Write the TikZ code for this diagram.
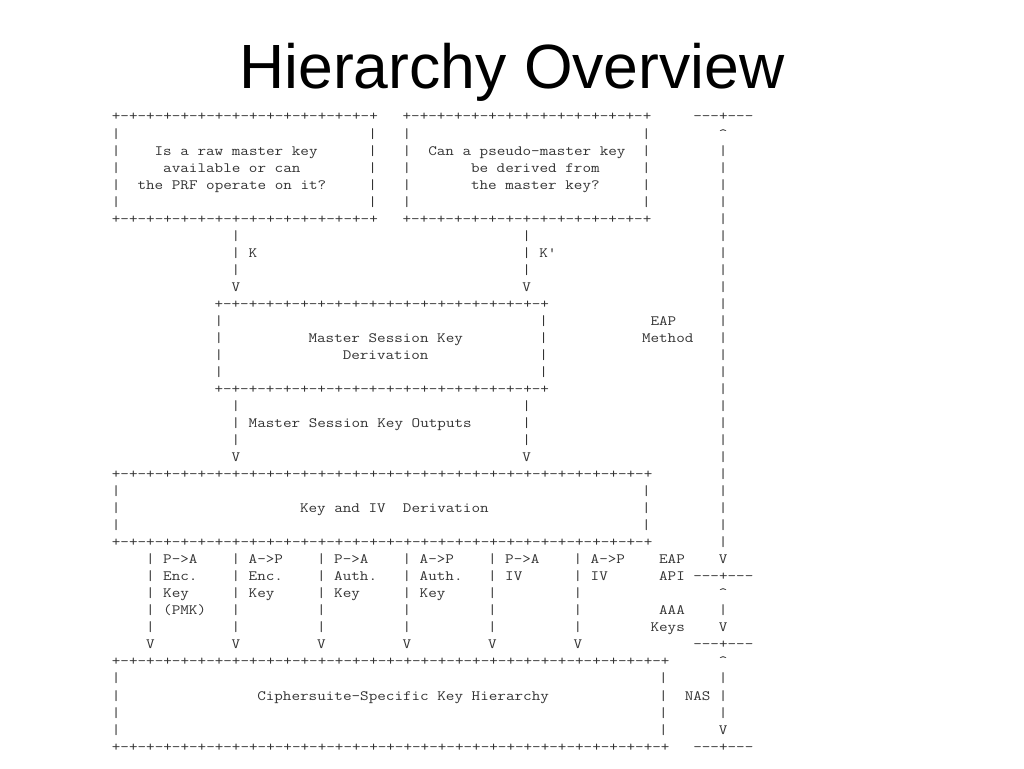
\documentclass[tikz,border=0pt]{standalone}
\usepackage{fontspec}
\setmainfont{Liberation Sans}
\setmonofont{Latin Modern Mono}[FakeStretch=1.1689]
\usepackage{tikz}

% a row of +-+-...-+ with n segments
\newcommand{\border}[1]{+\foreach \seg in {1,...,#1}{-+}}

\tikzset{
    ascii/.style={font=\ttfamily\fontsize{14.25}{17}\selectfont, text=black!80,
        inner sep=0pt, anchor=base west},
    heading/.style={font=\fontsize{62.5}{70}\selectfont, inner sep=0pt, anchor=base}
}

\begin{document}
\begin{tikzpicture}[x=1pt, y=1pt]
        \useasboundingbox (0, 0) rectangle (1024, 768);
        \node[heading] (title) at (512, 679) {Hierarchy Overview};

    \begin{scope}[shift={(111.7, 647)}, x=8.55pt, y=-17.03pt]
        % the two question boxes
        \node[ascii] (rawtop) at (0, 0) {\border{15}};
        \node[ascii] (pseudotop) at (34, 0) {\border{14}};
        \node[ascii] (eaptop) at (68, 0) {---+---};
        \node[ascii] (eapup) at (71, 1) {\textasciicircum};
        \foreach \r in {1,...,5} {
            \node[ascii] (rawl\r) at (0, \r) {|};
            \node[ascii] (rawr\r) at (30, \r) {|};
            \node[ascii] (pseudol\r) at (34, \r) {|};
            \node[ascii] (pseudor\r) at (62, \r) {|};
        }
        \node[ascii] (rawa) at (5, 2) {Is a raw master key};
        \node[ascii] (rawb) at (6, 3) {available or can};
        \node[ascii] (rawc) at (3, 4) {the PRF operate on it?};
        \node[ascii] (pseudoa) at (37, 2) {Can a pseudo-master key};
        \node[ascii] (pseudob) at (42, 3) {be derived from};
        \node[ascii] (pseudoc) at (42, 4) {the master key?};
        \node[ascii] (rawbot) at (0, 6) {\border{15}};
        \node[ascii] (pseudobot) at (34, 6) {\border{14}};

        % EAP method span on the right
        \foreach \r in {2,...,25}
            \node[ascii] (eapbar\r) at (71, \r) {|};
        \node[ascii] (eapa) at (63, 12) {EAP};
        \node[ascii] (eapb) at (62, 13) {Method};

        % K and K' down to the MSK box
        \foreach \r in {7,8,9} {
            \node[ascii] (kbar\r) at (14, \r) {|};
            \node[ascii] (kpbar\r) at (48, \r) {|};
        }
        \node[ascii] (k) at (16, 8) {K};
        \node[ascii] (kp) at (50, 8) {K'};
        \node[ascii] (kv) at (14, 10) {V};
        \node[ascii] (kpv) at (48, 10) {V};

        % master session key derivation
        \node[ascii] (msktop) at (12, 11) {\border{19}};
        \foreach \r in {12,...,15} {
            \node[ascii] (mskl\r) at (12, \r) {|};
            \node[ascii] (mskr\r) at (50, \r) {|};
        }
        \node[ascii] (mska) at (23, 13) {Master Session Key};
        \node[ascii] (mskb) at (27, 14) {Derivation};
        \node[ascii] (mskbot) at (12, 16) {\border{19}};

        % outputs
        \foreach \r in {17,18,19} {
            \node[ascii] (outl\r) at (14, \r) {|};
            \node[ascii] (outr\r) at (48, \r) {|};
        }
        \node[ascii] (out) at (16, 18) {Master Session Key Outputs};
        \node[ascii] (outlv) at (14, 20) {V};
        \node[ascii] (outrv) at (48, 20) {V};

        % key and IV derivation
        \node[ascii] (kivtop) at (0, 21) {\border{31}};
        \foreach \r in {22,23,24} {
            \node[ascii] (kivl\r) at (0, \r) {|};
            \node[ascii] (kivr\r) at (62, \r) {|};
        }
        \node[ascii] (kiv) at (22, 23) {Key and IV~~Derivation};
        \node[ascii] (kivbot) at (0, 25) {\border{31}};

        % derived keys
        \foreach \c/\la/\lb/\lc/\ld [count=\kc] in {4/P->A/Enc./Key/(PMK),
                14/A->P/Enc./Key/{}, 24/P->A/Auth./Key/{}, 34/A->P/Auth./Key/{},
                44/P->A/IV/{}/{}, 54/A->P/IV/{}/{}} {
            \foreach \r in {26,...,30}
                \node[ascii] (dk\kc-\r) at (\c, \r) {|};
            \node[ascii] (dk\kc-v) at (\c, 31) {V};
            \node[ascii] (dk\kc-a) at (\c+2, 26) {\la};
            \node[ascii] (dk\kc-b) at (\c+2, 27) {\lb};
            \node[ascii] (dk\kc-c) at (\c+2, 28) {\lc};
            \node[ascii] (dk\kc-d) at (\c+2, 29) {\ld};
        }

        % EAP API and AAA keys
        \node[ascii] (apia) at (64, 26) {EAP};
        \node[ascii] (apiv) at (71, 26) {V};
        \node[ascii] (apib) at (64, 27) {API};
        \node[ascii] (apitick) at (68, 27) {---+---};
        \node[ascii] (aaaup) at (71, 28) {\textasciicircum};
        \node[ascii] (aaaa) at (64, 29) {AAA};
        \node[ascii] (aaabar) at (71, 29) {|};
        \node[ascii] (aaab) at (63, 30) {Keys};
        \node[ascii] (aaav) at (71, 30) {V};
        \node[ascii] (aaatick) at (68, 31) {---+---};

        % ciphersuite-specific hierarchy and NAS
        \node[ascii] (cstop) at (0, 32) {\border{32}};
        \node[ascii] (nasup) at (71, 32) {\textasciicircum};
        \foreach \r in {33,...,36} {
            \node[ascii] (csl\r) at (0, \r) {|};
            \node[ascii] (csr\r) at (64, \r) {|};
        }
        \foreach \r in {33,34,35}
            \node[ascii] (nasbar\r) at (71, \r) {|};
        \node[ascii] (cs) at (17, 34) {Ciphersuite-Specific Key Hierarchy};
        \node[ascii] (nas) at (67, 34) {NAS};
        \node[ascii] (nasv) at (71, 36) {V};
        \node[ascii] (csbot) at (0, 37) {\border{32}};
        \node[ascii] (nastick) at (68, 37) {---+---};
    \end{scope}
\end{tikzpicture}
\end{document}
